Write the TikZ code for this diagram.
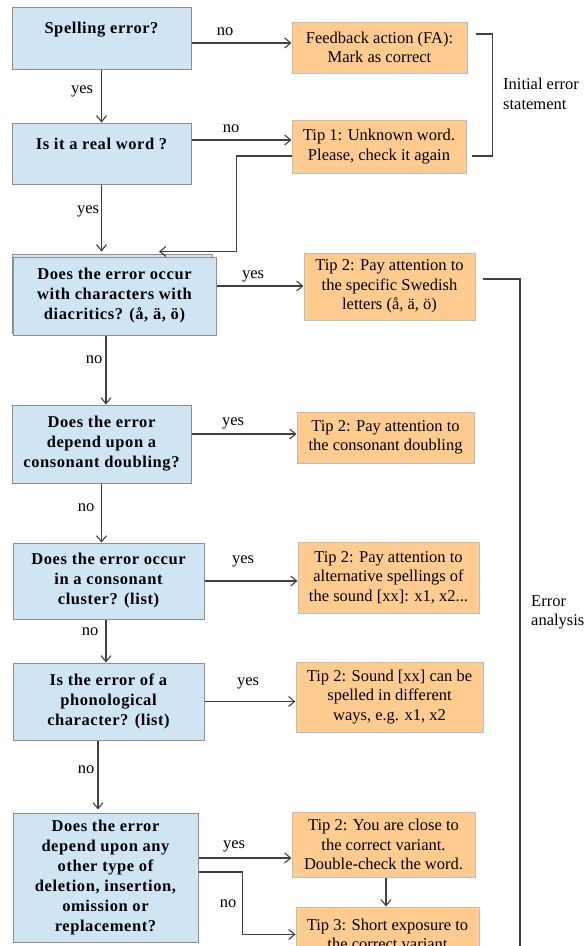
\documentclass[tikz,border=0pt]{standalone}
\usepackage{fontspec}
\setmainfont{Liberation Serif}
\newfontfamily\qfont{Liberation Serif}[LetterSpace=3.5]
\usetikzlibrary{arrows.meta}
\definecolor{qblue}{HTML}{CFE5F4}
\definecolor{qborder}{HTML}{8E8E8E}
\definecolor{tipfill}{HTML}{FFCB8F}
\definecolor{tipborder}{HTML}{BDBDBD}
\definecolor{lncol}{HTML}{404040}
\tikzset{
  qbox/.style={draw=qborder, fill=qblue, line width=1pt, inner sep=0pt, align=center,
    font=\qfont\bfseries\fontsize{16.5}{20}\selectfont},
  tipbox/.style={draw=tipborder, fill=tipfill, line width=1pt, inner sep=0pt, align=center,
    font=\fontsize{16.5}{19.5}\selectfont},
  conn/.style={draw=lncol, line width=1.1pt},
  arr/.style={conn, -{Straight Barb[length=6pt,width=10pt]}},
  lbl/.style={inner sep=0pt, font=\fontsize{16.5}{19.5}\selectfont},
}
\begin{document}
\begin{tikzpicture}[x=1pt,y=-1pt]
\clip (0,0) rectangle (586,946);
\fill[white] (0,0) rectangle (586,946);
% decision boxes and tips
\node[qbox, minimum width=179pt, minimum height=62pt] (b1) at (101.5,38) {Spelling error?\\ \mbox{}};
\node[tipbox, minimum width=175pt, minimum height=51pt] (fa) at (379.5,47.5) {Feedback action (FA):\\Mark as correct};
\node[qbox, minimum width=179pt, minimum height=61pt] (b2) at (101.5,153.5) {Is it a real word ?\\ \mbox{}};
\node[tipbox, minimum width=174pt, minimum height=53pt] (t1) at (379,146.5) {Tip 1: Unknown word.\\Please, check it again};
\filldraw[fill=qblue, draw=qborder, line width=1pt] (12,254) rectangle (212,333);
\node[qbox, minimum width=203pt, minimum height=78pt] (b3) at (114.5,296) {Does the error occur\\with characters with\\diacritics? (å, ä, ö)};
\node[tipbox, minimum width=171pt, minimum height=67pt] (t2a) at (389.5,286.5) {Tip 2: Pay attention to\\the specific Swedish\\letters (å, ä, ö)};
\node[qbox, minimum width=179pt, minimum height=78pt] (b4) at (101.5,444) {Does the error\\depend upon a\\consonant doubling?};
\node[tipbox, minimum width=177pt, minimum height=51pt] (t2b) at (385.5,437.5) {Tip 2: Pay attention to\\the consonant doubling};
\node[qbox, minimum width=191pt, minimum height=76pt] (b5) at (108.5,581) {Does the error occur\\in a consonant\\cluster? (list)};
\node[tipbox, minimum width=181pt, minimum height=71pt] (t2c) at (388.5,577.5) {Tip 2: Pay attention to\\alternative spellings of\\the sound [xx]: x1, x2...};
\node[qbox, minimum width=191pt, minimum height=77pt] (b6) at (108.5,701.5) {Is the error of a\\phonological\\character? (list)};
\node[tipbox, minimum width=187pt, minimum height=70pt] (t2d) at (389.5,697) {Tip 2: Sound [xx] can be\\spelled in different\\ways, e.g. x1, x2};
\node[qbox, minimum width=185pt, minimum height=129pt] (b7) at (105.5,877.5) {Does the error\\depend upon any\\other type of\\deletion, insertion,\\omission or\\replacement?};
\node[tipbox, minimum width=183pt, minimum height=65pt] (t2e) at (383.5,844.5) {Tip 2: You are close to\\the correct variant.\\Double-check the word.};
\node[tipbox, minimum width=183pt, minimum height=55pt] (t3) at (387.5,934.5) {Tip 3: Short exposure to\\the correct variant};
% connectors
\draw[arr] ([yshift=-5pt]b1.east) -- ([yshift=-5pt]b1.east -| fa.west);
\draw[arr] (b1.south) -- (b1.south |- b2.north);
\draw[arr] ([yshift=13.5pt]b2.east) -- ([yshift=13.5pt]b2.east -| t1.west);
\draw[arr] ([yshift=-9.5pt]t1.west) -- ++(-55,0) |- ([xshift=44.5pt,yshift=5pt]b3.north);
\draw[arr] (b2.south) -- ([yshift=5pt]b2.south |- b3.north);
\draw[arr] ([yshift=10pt]b3.east) -- ([yshift=10pt]b3.east -| t2a.west);
\draw[arr] ([xshift=-8.5pt]b3.south) -- ([xshift=-8.5pt]b3.south |- b4.north);
\draw[arr] ([yshift=10pt]b4.east) -- ([yshift=10pt]b4.east -| t2b.west);
\draw[arr] (b4.south) -- (b4.south |- b5.north);
\draw[arr] (b5.east) -- (b5.east -| t2c.west);
\draw[arr] ([xshift=-2.5pt]b5.south) -- ([xshift=-2.5pt]b5.south |- b6.north);
\draw[arr] (b6.east) -- (b6.east -| t2d.west);
\draw[arr] ([xshift=-10.5pt]b6.south) -- ([xshift=-10.5pt,yshift=3pt]b6.south |- b7.north);
\draw[arr] ([yshift=19.5pt]b7.east) -- ([yshift=19.5pt]b7.east -| t2e.west);
\draw[arr] ([yshift=5.5pt]b7.east) -- ++(44,0) |- (t3.west);
\draw[arr] ([xshift=2.5pt]t2e.south) -- ([xshift=2.5pt]t2e.south |- t3.north);
% brackets
\draw[conn] ([xshift=8pt,yshift=13.5pt]fa.east) -| ([xshift=26pt,yshift=-9.5pt]t1.east) -- ([xshift=5pt,yshift=-9.5pt]t1.east);
\coordinate (eabot) at (520,960);
\draw[conn] ([xshift=7pt,yshift=7.5pt]t2a.east) -| (eabot);
% labels
\node[lbl] (l1) at (225,32) {no};
\node[lbl] (l2) at (82,91) {yes};
\node[lbl] (l3) at (231,129) {no};
\node[lbl] (l4) at (88,211) {yes};
\node[lbl] (l5) at (253,276) {yes};
\node[lbl] (l6) at (94,360) {no};
\node[lbl] (l7) at (233,423) {yes};
\node[lbl] (l8) at (86,508) {no};
\node[lbl] (l9) at (243,561) {yes};
\node[lbl] (l10) at (90,632) {no};
\node[lbl] (l11) at (248,683) {yes};
\node[lbl] (l12) at (86,770) {no};
\node[lbl] (l13) at (234,846) {yes};
\node[lbl] (l14) at (228,904) {no};
\node[lbl, align=left, anchor=west] (ie) at (503,94) {Initial error\\statement};
\node[lbl, align=left, anchor=west] (ea) at (531,612.5) {Error\\analysis};
\end{tikzpicture}
\end{document}
